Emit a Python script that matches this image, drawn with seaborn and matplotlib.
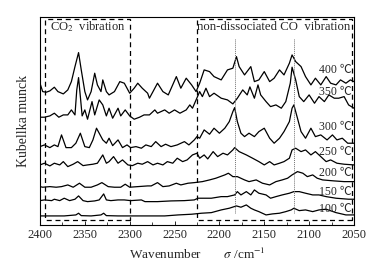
import pandas as pd
import matplotlib.pyplot as plt
import seaborn as sns
from matplotlib.patches import Rectangle
from matplotlib.ticker import MultipleLocator

# Kubelka-Munk spectra (arbitrary units, already offset)
wn_400 = [2400, 2397, 2393, 2389, 2384, 2380, 2374, 2369, 2365, 2361, 2357, 2354, 2350, 2347, 2343,
          2339, 2336, 2332, 2330, 2326, 2323, 2317, 2311, 2306, 2300, 2295, 2291, 2286, 2280, 2278,
          2269, 2263, 2257, 2248, 2243, 2237, 2231, 2226, 2222, 2217, 2211, 2206, 2198, 2191, 2185,
          2181, 2178, 2172, 2165, 2161, 2156, 2150, 2144, 2139, 2133, 2128, 2122, 2119, 2115, 2109,
          2104, 2098, 2093, 2087, 2081, 2076, 2070, 2065, 2059, 2054, 2050]
km_400 = [141.7, 133.3, 132.7, 134, 137.7, 133.3, 131, 135, 143.3, 158.3, 172.3, 155, 133.3, 125, 133.3,
          151.7, 140, 133.3, 145, 133.3, 130, 133.3, 143.3, 141.7, 131.7, 136.7, 141.7, 136.7, 131.7, 126.7,
          141.7, 133.3, 130, 148.3, 136.7, 146.7, 140, 133.3, 141.7, 155, 153.3, 148.3, 145, 155, 156.7,
          168.3, 158.3, 150, 158.3, 143.3, 145, 153.3, 143.3, 146.7, 155, 150, 161.7, 170, 163.3, 158.3,
          148.3, 140, 146.7, 140, 148.3, 141.7, 140, 145, 141.7, 145, 143.3]

wn_350 = [2400, 2395, 2389, 2384, 2379, 2374, 2369, 2365, 2361, 2359, 2357, 2355, 2353, 2350, 2347,
          2342, 2339, 2334, 2330, 2326, 2323, 2319, 2313, 2310, 2305, 2300, 2295, 2289, 2284, 2278,
          2272, 2269, 2261, 2256, 2250, 2244, 2237, 2233, 2230, 2226, 2222, 2219, 2215, 2211, 2206,
          2198, 2191, 2185, 2180, 2174, 2169, 2166, 2161, 2157, 2154, 2148, 2143, 2137, 2131, 2126,
          2121, 2119, 2115, 2111, 2106, 2100, 2094, 2089, 2083, 2078, 2072, 2067, 2061, 2056, 2050]
km_350 = [107.7, 107.7, 109, 111.7, 107.7, 110, 110, 115, 110, 135, 147.3, 128.3, 109, 115, 105.7,
          123.3, 110, 125, 120, 109, 116.7, 106.7, 116.7, 109, 115, 109, 105.7, 107.7, 110, 110,
          115, 111.7, 115, 111.7, 115, 111.7, 115, 120, 116.7, 125, 133.3, 128.3, 136.7, 128.3, 131.7,
          126.7, 125, 121, 126.7, 135, 130, 138, 126.7, 140, 130, 123.3, 118.3, 120, 116.7, 123.3,
          141.7, 157.7, 145, 128.3, 123.3, 130, 121.7, 128.3, 123.3, 130, 126.7, 126.7, 128.3, 120, 116.7]

wn_300 = [2400, 2395, 2389, 2384, 2380, 2376, 2371, 2365, 2360, 2355, 2350, 2345, 2341, 2337, 2334,
          2330, 2326, 2323, 2319, 2313, 2308, 2303, 2299, 2293, 2287, 2282, 2276, 2271, 2265, 2260,
          2254, 2247, 2239, 2234, 2228, 2225, 2222, 2217, 2211, 2206, 2200, 2194, 2189, 2185, 2183,
          2180, 2176, 2172, 2167, 2161, 2156, 2150, 2144, 2139, 2133, 2128, 2122, 2119, 2117, 2113,
          2109, 2104, 2098, 2093, 2087, 2080, 2074, 2069, 2063, 2057, 2050]
km_300 = [78.3, 80, 77.3, 80, 78.3, 90, 77.3, 77.3, 81.7, 91.7, 78.3, 77.3, 85, 96.7, 91.7,
          85, 81.7, 86.7, 79.3, 85, 77.3, 80, 77.3, 78.3, 76.7, 80, 78.3, 83.3, 78.3, 80.7,
          78.3, 80, 83.3, 80, 85, 88.3, 86.7, 95, 90.7, 96.7, 91.7, 96.7, 103.3, 113.3, 117.3,
          103.3, 91.7, 88.3, 91.7, 88.3, 93.3, 96.7, 86.7, 81.7, 86.7, 93.3, 103.3, 116.7, 120, 106.7,
          93.3, 86.7, 96.7, 88.3, 90, 85, 90, 85, 86.7, 81.7, 81.7]

wn_250 = [2400, 2395, 2389, 2384, 2378, 2374, 2369, 2363, 2358, 2352, 2347, 2341, 2336, 2330, 2326,
          2323, 2318, 2313, 2308, 2302, 2297, 2291, 2286, 2280, 2274, 2269, 2263, 2258, 2252, 2247,
          2241, 2236, 2230, 2225, 2222, 2217, 2213, 2207, 2202, 2196, 2191, 2185, 2183, 2178, 2170,
          2163, 2156, 2150, 2144, 2139, 2133, 2128, 2122, 2119, 2115, 2109, 2104, 2098, 2093, 2087,
          2081, 2076, 2069, 2061, 2050]
km_250 = [60, 61.7, 59, 61.7, 60, 63.3, 58.3, 60.7, 63.3, 59.3, 60, 60.7, 61.7, 70, 61.7,
          63.3, 68.3, 61.7, 65, 60, 59.3, 61.7, 60.7, 63.3, 60, 61.7, 60, 63.3, 61.7, 66.7,
          63.3, 65, 70, 71.7, 66.7, 70, 66, 73.3, 68.3, 71.7, 70, 75, 77.3, 73.3, 70,
          66.7, 63.3, 60, 63.3, 60, 61.7, 63.3, 66.7, 75, 76.7, 73.3, 75, 70, 73.3, 68.3,
          63.3, 65, 61.7, 60.7, 60]

wn_200 = [2400, 2397, 2389, 2382, 2376, 2369, 2363, 2356, 2350, 2343, 2336, 2331, 2324, 2317, 2310,
          2305, 2300, 2291, 2280, 2276, 2269, 2263, 2256, 2248, 2243, 2235, 2228, 2219, 2211, 2204,
          2194, 2190, 2185, 2180, 2172, 2167, 2159, 2152, 2144, 2137, 2130, 2124, 2119, 2113, 2107,
          2102, 2096, 2091, 2085, 2072, 2061, 2050]
km_200 = [38.3, 37.7, 38.3, 37.7, 38.3, 40, 37.7, 41.7, 37.7, 37.7, 40, 42.3, 38.3, 37.7, 37.7,
          40.7, 37.7, 38.3, 39, 39, 42.3, 38.3, 39, 41.7, 40, 41.7, 42.3, 43.3, 45, 46.7,
          50, 51.7, 48.3, 48.3, 45, 43.3, 45, 41.7, 40, 43.3, 45, 46.7, 50, 53.3, 51.7,
          48.3, 50, 46.7, 45, 44, 43.3, 43.3]

wn_150 = [2400, 2395, 2387, 2384, 2378, 2373, 2367, 2361, 2357, 2352, 2347, 2339, 2334, 2329, 2326,
          2321, 2313, 2306, 2299, 2287, 2283, 2269, 2254, 2239, 2228, 2224, 2209, 2198, 2191, 2183,
          2180, 2176, 2170, 2165, 2161, 2156, 2148, 2143, 2137, 2130, 2122, 2117, 2111, 2104, 2096,
          2089, 2081, 2070, 2056, 2050]
km_150 = [24.3, 25, 24.3, 25.7, 24.3, 26.7, 24.3, 25.7, 29, 24.3, 23.3, 24, 25, 31, 25,
          24.3, 25, 25, 24.3, 25, 23.3, 23.3, 24, 24.3, 25, 26.7, 26.7, 28.3, 28.3, 30,
          33.3, 30, 33.3, 30, 35, 31.7, 30, 26.7, 28.3, 30, 31.7, 33.3, 33.3, 31.7, 30,
          30, 28.3, 26.7, 25.7, 25.7]

wn_100 = [2400, 2387, 2373, 2360, 2357, 2354, 2343, 2332, 2329, 2326, 2313, 2299, 2280, 2261, 2246,
          2231, 2220, 2209, 2198, 2189, 2181, 2176, 2170, 2165, 2161, 2156, 2148, 2141, 2133, 2126,
          2120, 2117, 2111, 2104, 2096, 2089, 2081, 2070, 2059, 2050]
km_100 = [9, 9, 9, 10, 11.7, 9.3, 9, 10, 11.7, 9.3, 9, 9, 9, 9, 10,
          10.7, 11.7, 12.3, 15, 16.7, 19, 17.7, 20, 16.7, 15, 13.3, 10, 11, 11.7, 13.3,
          15, 16.7, 14.3, 15, 13.3, 15, 15.7, 12.3, 10, 10]

temps = ["400", "350", "300", "250", "200", "150", "100"]
label_km = [155, 133, 98, 73, 52, 33, 16]

co2_band = [2394, 2300]
co_band = [2225, 2052]
co_peaks = [2183, 2117]

spectra = {"400": (wn_400, km_400), "350": (wn_350, km_350), "300": (wn_300, km_300),
           "250": (wn_250, km_250), "200": (wn_200, km_200), "150": (wn_150, km_150),
           "100": (wn_100, km_100)}
df = pd.concat([pd.DataFrame({"wn": w, "km": k, "T": t}) for t, (w, k) in spectra.items()])

sns.set_theme(style="white")
plt.rcParams['font.family'] = ['Liberation Serif', 'Noto Sans CJK SC']
plt.rcParams['mathtext.fontset'] = 'stix'

fig = plt.figure(figsize=(3.92, 2.64), dpi=100)
ax = fig.add_axes([0.102, 0.148, 0.801, 0.788])

sns.lineplot(data=df, x="wn", y="km", hue="T", palette=["black"] * 7, legend=False,
             linewidth=0.9, estimator=None, sort=False, ax=ax)

ax.set_xlim(2400, 2050)
ax.set_ylim(0, 208)

# dashed band boxes
for lo, hi in [co2_band, co_band]:
    ax.add_patch(Rectangle((hi, 5), lo - hi, 201, fill=False, ec="black",
                           lw=0.9, ls=(0, (4, 3))))
for p in co_peaks:
    ax.plot([p, p], [12, 187], color="0.45", lw=0.7, ls=(0, (1, 1)))

ax.text(sum(co2_band) / 2, 198, "CO$_2$  vibration", ha="center", va="center", fontsize=9)
ax.text(2139.5, 198, "non-dissociated CO  vibration", ha="center", va="center", fontsize=9.2)
for t, y in zip(temps, label_km):
    ax.text(2053, y, f"{t} ℃", ha="right", va="center", fontsize=8.5)

ax.set_yticks([])
ax.xaxis.set_major_locator(MultipleLocator(50))
ax.xaxis.set_minor_locator(MultipleLocator(25))
ax.tick_params(axis="x", which="major", direction="in", length=3, width=0.7,
               labelsize=9, pad=3, bottom=True)
ax.tick_params(axis="x", which="minor", direction="in", length=2, width=0.6, bottom=True)
ax.set_xticklabels([str(int(v)) for v in ax.get_xticks()])
for s in ax.spines.values():
    s.set_color("black")
    s.set_linewidth(0.8)

ax.set_xlabel("Wavenumber       $\\sigma$ /cm$^{-1}$", fontsize=9.5, labelpad=4)
ax.set_ylabel("Kubellka munck", fontsize=10, labelpad=7)

fig.savefig("out.png", dpi=100)
